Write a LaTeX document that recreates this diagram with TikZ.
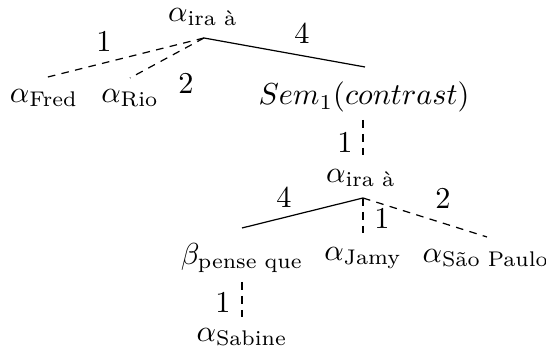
\documentclass[tikz,border=0pt]{standalone}
\usepackage{amsmath}
\begin{document}
\begin{tikzpicture}[x=0.33pt,y=-0.33pt,
  lab/.style={inner sep=0pt},
  word/.style={inner sep=0pt},
  dsh/.style={dash pattern=on 2.5pt off 2.1pt},
  sld/.style={}]
\useasboundingbox (0,0) rectangle (546,354);
% top tree
\node[word] (r1) at (203,17) {$\alpha_{\text{ira à}}$};
\coordinate (r1b) at (204,38);
\node[word] (fred) at (44,98) {$\alpha_{\text{Fred}}$};
\node[word] (rio) at (130,98) {$\alpha_{\text{Rio}}$};
\node[word] (sem) at (364,97) {$Sem_1(contrast)$};
\coordinate (fredt) at (44,78);
\coordinate (riot) at (130,78);
\coordinate (semt) at (365,67);
\draw[dsh] (r1b) -- (fredt);
\draw[dsh] (r1b) -- (riot);
\draw[sld] (r1b) -- (semt);
\node[lab] (l1) at (104,41) {1};
\node[lab] (l2) at (186,83) {2};
\node[lab] (l4) at (302,33) {4};
% link sem -> second ira
\coordinate (semb) at (363,120);
\coordinate (r2t) at (363,158);
\draw[dsh] (semb) -- (r2t);
\node[lab] (l5) at (345,142) {1};
% second tree
\node[word] (r2) at (361,178) {$\alpha_{\text{ira à}}$};
\coordinate (r2b) at (363,198);
\node[word] (pense) at (242,258) {$\beta_{\text{pense que}}$};
\node[word] (jamy) at (363,258) {$\alpha_{\text{Jamy}}$};
\node[word] (sao) at (486,258) {$\alpha_{\text{São Paulo}}$};
\coordinate (penset) at (242,228);
\coordinate (jamyt) at (363,237);
\coordinate (saot) at (487,237);
\draw[sld] (r2b) -- (penset);
\draw[dsh] (r2b) -- (jamyt);
\draw[dsh] (r2b) -- (saot);
\node[lab] (l6) at (284,197) {4};
\node[lab] (l7) at (382,218) {1};
\node[lab] (l8) at (443,198) {2};
% sabine
\coordinate (penseb) at (242,282);
\coordinate (sabt) at (242,317);
\draw[dsh] (penseb) -- (sabt);
\node[lab] (l9) at (223,302) {1};
\node[word] (sab) at (242,337) {$\alpha_{\text{Sabine}}$};
\end{tikzpicture}
\end{document}
